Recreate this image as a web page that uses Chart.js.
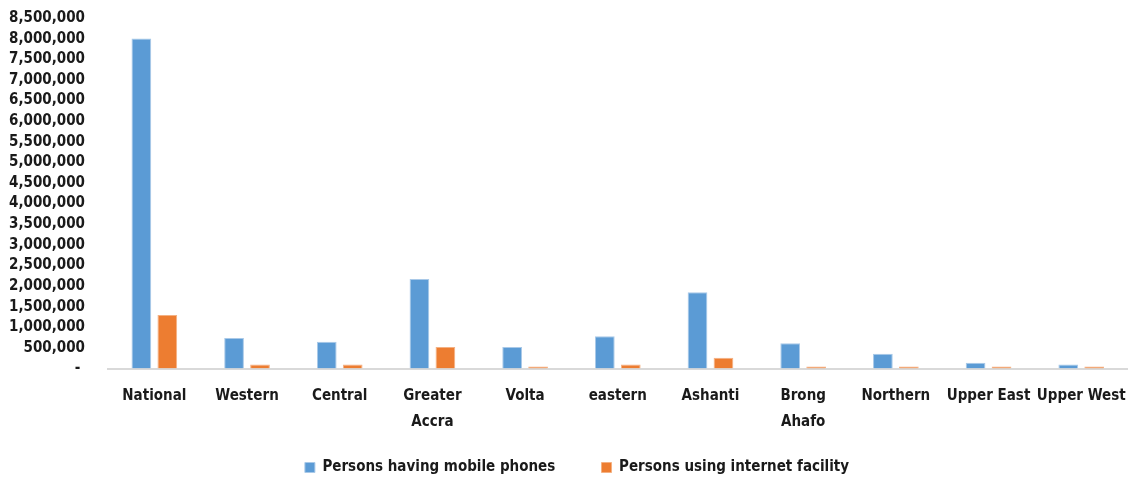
<!DOCTYPE html>
<html lang="en">
<head>
    <meta charset="UTF-8">
    <title>Mobile phones and internet use by region</title>
    <script src="https://cdn.jsdelivr.net/npm/chart.js"></script>
    <style>
        body { margin: 0; background: #fff; }
        #wrap { width: 1140px; height: 478px; }
    </style>
</head>
<body>
    <div id="wrap">
        <canvas id="chart"></canvas>
    </div>

    <script>
        // Datos
        const regions = ['National', 'Western', 'Central', ['Greater', 'Accra'], 'Volta', 'eastern',
            'Ashanti', ['Brong', 'Ahafo'], 'Northern', 'Upper East', 'Upper West'];
        const mobilePhones = [8000000, 740000, 650000, 2170000, 520000, 780000, 1850000, 610000, 360000, 140000, 100000];
        const internetUsers = [1300000, 100000, 100000, 520000, 50000, 100000, 260000, 50000, 50000, 50000, 50000];
        const seriesNames = ['Persons having mobile phones', 'Persons using internet facility'];

        const textFont = { family: "'DejaVu Sans Condensed', 'DejaVu Sans', sans-serif", size: 15, weight: 'bold' };

        // corre la leyenda un poco a la derecha, como en el original
        const legendShift = {
            id: 'legendShift',
            afterLayout: function (chart) {
                chart.legend.left += 11;
                chart.legend.right += 11;
            }
        };

        new Chart(document.getElementById('chart'), {
            type: 'bar',
            data: {
                labels: regions,
                datasets: [{
                    label: seriesNames[0],
                    data: mobilePhones,
                    backgroundColor: '#5b9bd5',
                    borderColor: '#a9c9e8',
                    borderWidth: 1,
                    categoryPercentage: 0.56,
                    barPercentage: 0.76
                }, {
                    label: seriesNames[1],
                    data: internetUsers,
                    backgroundColor: '#ed7d31',
                    borderColor: '#f4b183',
                    borderWidth: 1,
                    categoryPercentage: 0.56,
                    barPercentage: 0.76
                }]
            },
            plugins: [legendShift],
            options: {
                responsive: true,
                maintainAspectRatio: false,
                animation: false,
                layout: { padding: { top: 18, right: 8, left: 0, bottom: -7 } },
                plugins: {
                    tooltip: { enabled: false },
                    legend: {
                        position: 'bottom',
                        labels: {
                            boxWidth: 10,
                            boxHeight: 10,
                            padding: 4,
                            color: '#1a1a1a',
                            font: textFont,
                            generateLabels: function (chart) {
                                const items = Chart.defaults.plugins.legend.labels.generateLabels(chart);
                                items[0].text = items[0].text + '         ';
                                return items;
                            }
                        }
                    }
                },
                scales: {
                    x: {
                        grid: { display: false, drawTicks: false },
                        border: { display: true, color: '#d9d9d9', width: 2 },
                        afterFit: function (scale) { scale.height += 7; },
                        ticks: {
                            color: '#1a1a1a',
                            font: { ...textFont, lineHeight: 1.75 },
                            padding: 14,
                            maxRotation: 0,
                            autoSkip: false
                        }
                    },
                    y: {
                        min: 0,
                        max: 8500000,
                        grid: { display: false, drawTicks: false },
                        border: { display: false },
                        afterFit: function (scale) {
                            scale.width = 108;
                            scale.paddingTop = 0;
                            scale.paddingBottom = 0;
                        },
                        ticks: {
                            stepSize: 500000,
                            autoSkip: false,
                            color: '#1a1a1a',
                            font: textFont,
                            padding: 23,
                            callback: function (v) {
                                return v === 0 ? '- ' : v.toLocaleString('en-US');
                            }
                        }
                    }
                }
            }
        });
    </script>
</body>
</html>
